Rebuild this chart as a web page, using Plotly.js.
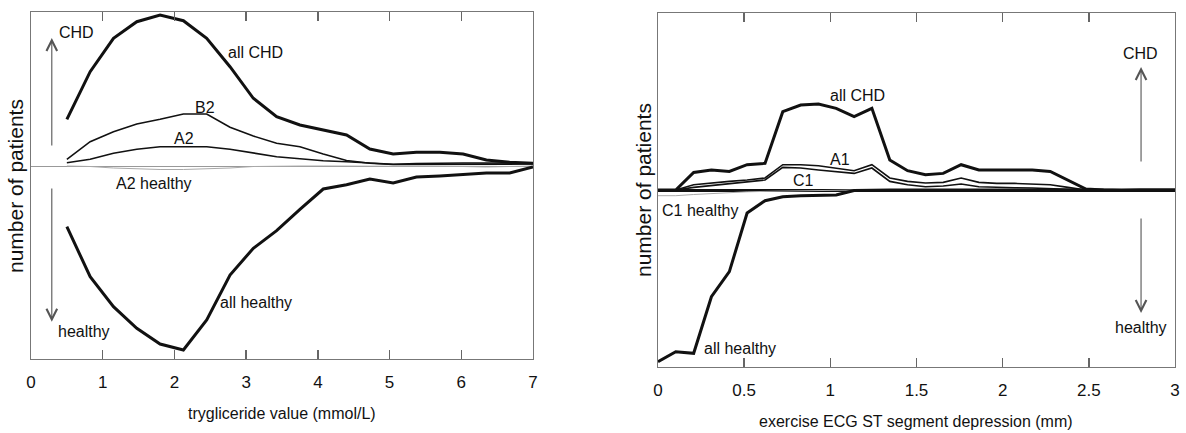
<!DOCTYPE html>
<html>
<head>
<meta charset="utf-8">
<script src="https://cdn.plot.ly/plotly-3.0.1.min.js"></script>
<style>html,body{margin:0;padding:0;background:#fff;}#chart{width:1186px;height:433px;}</style>
</head>
<body>
<div id="chart"></div>
<script>
// ---- Left panel: triglyceride value (mmol/L) ----
const xTrig = [0.5, 0.825, 1.15, 1.475, 1.8, 2.125, 2.45, 2.775, 3.1, 3.425, 3.75, 4.075, 4.4, 4.725, 5.05, 5.375, 5.7, 6.025, 6.35, 6.675, 7.0];
const trigAllCHD = [46.7, 94.3, 127.7, 144.3, 151, 145.3, 127.7, 99.3, 67.7, 49.3, 41, 36, 31, 17, 12, 13.7, 13.7, 12, 6, 3.7, 2.7];
const trigB2 = [6.7, 24.3, 34.3, 42, 46.7, 52, 52, 38.7, 30, 22.7, 19.3, 12, 5.5, 2.7, 1.5, 1.5, 2, 2, 2, 2, 2];
const trigA2 = [3.3, 6.7, 12.7, 16.7, 19.3, 19.3, 19.3, 16.7, 12.7, 9.3, 7.3, 5.3, 4.3, 2.7, 1.7, 2.5, 3, 3, 3, 3, 3];
const trigA2Healthy = [0, -0.5, -2, -3, -3.5, -3.5, -3, -2, -0.5, 0, 0, 0, 0, 0, 0, 0, 0, -0.5, -1, -0.5, 0];
const trigAllHealthy = [-60.7, -110.7, -140.7, -162.3, -178, -184, -154, -109, -82.3, -64.7, -43.3, -23, -18.7, -13, -17, -11, -10, -8.7, -7, -7, -1];
const trigTicks = [0, 1, 2, 3, 4, 5, 6, 7];

// ---- Right panel: exercise ECG ST segment depression (mm) ----
const xST = [0, 0.103, 0.207, 0.310, 0.414, 0.517, 0.621, 0.724, 0.828, 0.931, 1.034, 1.138, 1.241, 1.345, 1.448, 1.552, 1.655, 1.759, 1.862, 1.966, 2.069, 2.172, 2.276, 2.379, 2.483, 2.586, 2.690, 2.793, 2.897, 3.0];
const stAllCHD = [0, 0, 17.6, 20, 18.6, 25.3, 26.6, 78.3, 85, 86, 81.7, 73.3, 81.7, 30, 19.3, 15.3, 16.6, 25.3, 20, 20, 20, 20, 18.6, 10, 1, 0, -0.5, 0, 0, 0];
const stA1 = [0, 0, 5.3, 7.3, 8.6, 10, 12, 25.3, 25.3, 24.3, 22, 19.3, 25.3, 12, 8.6, 7, 7.6, 12, 7.6, 6.6, 6.6, 6, 5.3, 2.6, 0, 0, 0, 0, 0, 0];
const stC1 = [0, 0, 2.6, 4.6, 6.6, 8, 10, 22.6, 22, 20, 18.6, 16.6, 22, 8.6, 5.3, 3.3, 4, 6, 3.3, 2.6, 2.3, 2, 1.6, 0.6, 0, 0, 0, 0, 0, 0];
const stC1Healthy = [-5.7, -5.7, -4.5, -3.4, -2.5, -1.8, -1.4, -1, -0.7, -0.4, -0.2, 0, 0, 0, 0, 0, 0, 0, 0, 0, 0, 0, 0, 0, 0, 0, 0, 0, 0, 0];
const stAllHealthy = [-171.7, -161.7, -163.3, -106.7, -81.7, -23, -10.7, -6.7, -5.7, -5.7, -5, -0.5, 0, 0, 0, 0, 0, 0, 0, 0, 0, 0, 0, 0, 0, 0, 0, 0, 0, 0];
const stTicks = [0, 0.5, 1, 1.5, 2, 2.5, 3];
const stTickText = ['0', '0.5', '1', '1.5', '2', '2.5', '3'];

const FONT = 'Liberation Sans, Arial, Helvetica, sans-serif';
const BLACK = '#111';
const GRAY = '#aaa';
const yRangeL = [-193, 154];
const yRangeR = [-177, 177];

function line(x, y, xa, ya, w, c) {
  return {x: x, y: y, xaxis: xa, yaxis: ya, type: 'scatter', mode: 'lines',
          line: {color: c, width: w}, hoverinfo: 'skip', showlegend: false};
}

const data = [
  line(xTrig, trigA2Healthy, 'x', 'y', 1, GRAY),
  line(xTrig, trigA2, 'x', 'y', 1.6, BLACK),
  line(xTrig, trigB2, 'x', 'y', 1.6, BLACK),
  line(xTrig, trigAllCHD, 'x', 'y', 3, BLACK),
  line(xTrig, trigAllHealthy, 'x', 'y', 3, BLACK),
  line(xST, stC1Healthy, 'x2', 'y2', 1, GRAY),
  line(xST, stC1, 'x2', 'y2', 1.6, BLACK),
  line(xST, stA1, 'x2', 'y2', 1.6, BLACK),
  line(xST, stAllCHD, 'x2', 'y2', 3, BLACK),
  line(xST, stAllHealthy, 'x2', 'y2', 3, BLACK)
];

const frame = {showline: true, mirror: 'allticks', linecolor: '#777', linewidth: 1.3, showgrid: false};
const xTickStyle = {ticks: 'inside', ticklen: 9, tickwidth: 1.5, tickcolor: '#666',
  tickfont: {family: FONT, size: 17, color: BLACK}, ticklabelstandoff: 7, zeroline: false};

function label(text, x, y, xr, yr) {
  return {text: text, x: x, y: y, xref: xr, yref: yr, showarrow: false,
          font: {family: FONT, size: 16, color: BLACK}, xanchor: 'center', yanchor: 'middle'};
}
function arrow(x, yTail, yHead, xr, yr) {
  return {text: '', x: x, y: yHead, ax: x, ay: yTail, xref: xr, yref: yr, axref: xr, ayref: yr,
          showarrow: true, arrowhead: 5, arrowsize: 1.9, arrowwidth: 1.1, arrowcolor: '#555'};
}

const layout = {
  width: 1186, height: 433,
  margin: {l: 0, r: 0, t: 0, b: 0},
  paper_bgcolor: '#fff', plot_bgcolor: '#fff',
  font: {family: FONT, color: BLACK},
  xaxis: Object.assign({}, frame, xTickStyle, {domain: [31/1186, 533/1186], range: [0, 7], anchor: 'y',
    tickmode: 'array', tickvals: trigTicks}),
  yaxis: Object.assign({}, frame, {mirror: true, domain: [1 - 359/433, 1 - 12/433], range: yRangeL, anchor: 'x',
    ticks: '', showticklabels: false, zeroline: true, zerolinecolor: '#999', zerolinewidth: 1}),
  xaxis2: Object.assign({}, frame, xTickStyle, {domain: [658/1186, 1175/1186], range: [0, 3], anchor: 'y2',
    tickmode: 'array', tickvals: stTicks, ticktext: stTickText}),
  yaxis2: Object.assign({}, frame, {mirror: true, domain: [1 - 367/433, 1 - 13/433], range: yRangeR, anchor: 'x2',
    ticks: '', showticklabels: false, zeroline: true, zerolinecolor: BLACK, zerolinewidth: 3}),
  annotations: [
    // left panel labels
    label('all CHD', 3.124, 114, 'x', 'y'),
    label('B2', 2.427, 59, 'x', 'y'),
    label('A2', 2.134, 28, 'x', 'y'),
    label('A2 healthy', 1.715, -17, 'x', 'y'),
    label('all healthy', 3.138, -136, 'x', 'y'),
    label('CHD', 0.635, 134, 'x', 'y'),
    label('healthy', 0.74, -165.7, 'x', 'y'),
    arrow(0.29, 19, 128, 'x', 'y'),
    arrow(0.29, -21, -155.7, 'x', 'y'),
    // right panel labels
    label('all CHD', 1.155, 95, 'x2', 'y2'),
    label('A1', 1.056, 31, 'x2', 'y2'),
    label('C1', 0.847, 10, 'x2', 'y2'),
    label('C1 healthy', 0.244, -20, 'x2', 'y2'),
    label('all healthy', 0.476, -158, 'x2', 'y2'),
    label('CHD', 2.797, 137, 'x2', 'y2'),
    label('healthy', 2.803, -137, 'x2', 'y2'),
    arrow(2.803, 27, 123, 'x2', 'y2'),
    arrow(2.803, -27, -123, 'x2', 'y2'),
    // axis titles
    {text: 'number of patients', x: 16/1186, y: 1 - 186/433, xref: 'paper', yref: 'paper', showarrow: false,
     textangle: -90, font: {family: FONT, size: 21, color: BLACK}, xanchor: 'center', yanchor: 'middle'},
    {text: 'number of patients', x: 643/1186, y: 1 - 190/433, xref: 'paper', yref: 'paper', showarrow: false,
     textangle: -90, font: {family: FONT, size: 21, color: BLACK}, xanchor: 'center', yanchor: 'middle'},
    {text: 'trygliceride value (mmol/L)', x: 282/1186, y: 1 - 413/433, xref: 'paper', yref: 'paper', showarrow: false,
     font: {family: FONT, size: 16, color: BLACK}, xanchor: 'center', yanchor: 'middle'},
    {text: 'exercise ECG ST segment depression (mm)', x: 916/1186, y: 1 - 421/433, xref: 'paper', yref: 'paper', showarrow: false,
     font: {family: FONT, size: 16, color: BLACK}, xanchor: 'center', yanchor: 'middle'}
  ]
};

Plotly.newPlot('chart', data, layout, {staticPlot: true, displayModeBar: false});
</script>
</body>
</html>
